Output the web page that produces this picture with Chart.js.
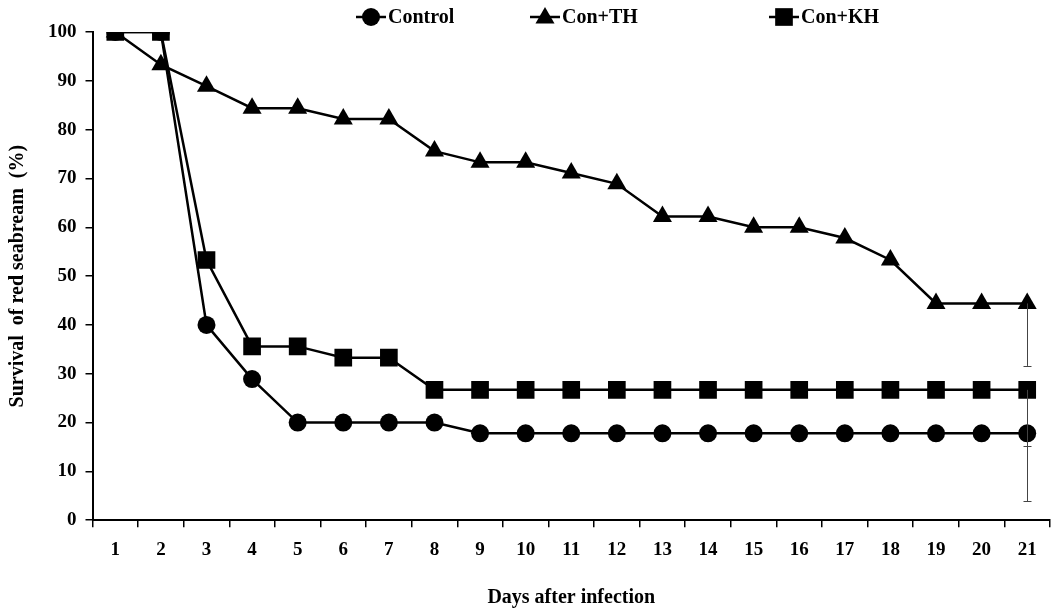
<!DOCTYPE html>
<html>
<head>
<meta charset="utf-8">
<script src="https://cdn.jsdelivr.net/npm/chart.js"></script>
<style>
  html, body { margin: 0; padding: 0; background: #fff; overflow: hidden; }
  canvas { display: block; }
</style>
</head>
<body>
<canvas id="survivalChart" width="1051" height="614"></canvas>
<script>
// datos
var days = ['1','2','3','4','5','6','7','8','9','10','11','12','13','14','15','16','17','18','19','20','21'];
var controlData = [100, 100, 40, 28.9, 20, 20, 20, 20, 17.8, 17.8, 17.8, 17.8, 17.8, 17.8, 17.8, 17.8, 17.8, 17.8, 17.8, 17.8, 17.8];
var thData = [100, 93.3, 88.9, 84.4, 84.4, 82.2, 82.2, 75.6, 73.3, 73.3, 71.1, 68.9, 62.2, 62.2, 60, 60, 57.8, 53.3, 44.4, 44.4, 44.4];
var khData = [100, 100, 53.3, 35.6, 35.6, 33.3, 33.3, 26.7, 26.7, 26.7, 26.7, 26.7, 26.7, 26.7, 26.7, 26.7, 26.7, 26.7, 26.7, 26.7, 26.7];
// barras de error (solo hacia abajo), ultimo dia
var controlErr = [null, null, null, null, null, null, null, null, null, null, null, null, null, null, null, null, null, null, null, null, 13.9];
var thErr = [null, null, null, null, null, null, null, null, null, null, null, null, null, null, null, null, null, null, null, null, 12.8];
var khErr = [null, null, null, null, null, null, null, null, null, null, null, null, null, null, null, null, null, null, null, null, 11.6];

var serif = "'Liberation Serif', 'Times New Roman', serif";

function drawMarker(ctx, style, r, x, y) {
    ctx.beginPath();
    if (style === 'circle') {
        ctx.arc(x, y, r, 0, Math.PI * 2);
    } else if (style === 'triangle') {
        ctx.moveTo(x, y - r);
        ctx.lineTo(x + r * 0.866, y + r * 0.5);
        ctx.lineTo(x - r * 0.866, y + r * 0.5);
        ctx.closePath();
    } else {
        var s = r * Math.SQRT1_2;
        ctx.rect(x - s, y - s, 2 * s, 2 * s);
    }
    ctx.fill();
}

// leyenda con linea y marcador
var legendPlugin = {
    id: 'lineLegend',
    afterDraw: function(chart) {
        var ctx = chart.ctx;
        var items = [
            { text: 'Control', x: 356, style: 'circle', r: 9 },
            { text: 'Con+TH', x: 530, style: 'triangle', r: 11 },
            { text: 'Con+KH', x: 769, style: 'rect', r: 12.5 }
        ];
        var y = 17;
        ctx.save();
        ctx.fillStyle = '#000';
        ctx.strokeStyle = '#000';
        ctx.lineWidth = 2.5;
        ctx.font = 'bold 20px ' + serif;
        ctx.textBaseline = 'middle';
        items.forEach(function(it) {
            ctx.beginPath();
            ctx.moveTo(it.x, y);
            ctx.lineTo(it.x + 30, y);
            ctx.stroke();
            drawMarker(ctx, it.style, it.r, it.x + 15, it.style === 'triangle' ? y + 1 : y);
            ctx.fillText(it.text, it.x + 32, y + 1);
        });
        ctx.restore();
    }
};

// barras de error
var errorBarPlugin = {
    id: 'errorBars',
    afterDatasetsDraw: function(chart) {
        var ctx = chart.ctx;
        var yScale = chart.scales.y;
        var xScale = chart.scales.x;
        var errs = [controlErr, thErr, khErr];
        ctx.save();
        ctx.strokeStyle = '#444';
        ctx.lineWidth = 1;
        chart.data.datasets.forEach(function(ds, di) {
            ds.data.forEach(function(v, i) {
                var e = errs[di][i];
                if (e == null) return;
                var x = Math.round(xScale.getPixelForValue(i)) + 0.5;
                var y0 = yScale.getPixelForValue(v);
                var y1 = yScale.getPixelForValue(v - e);
                ctx.beginPath();
                ctx.moveTo(x, y0);
                ctx.lineTo(x, y1);
                ctx.moveTo(x - 4, Math.round(y1) + 0.5);
                ctx.lineTo(x + 4, Math.round(y1) + 0.5);
                ctx.stroke();
            });
        });
        ctx.restore();
    }
};

var ctx = document.getElementById('survivalChart').getContext('2d');
var survivalChart = new Chart(ctx, {
    type: 'line',
    data: {
        labels: days,
        datasets: [
            {
                label: 'Control',
                data: controlData,
                borderColor: '#000',
                backgroundColor: '#000',
                borderWidth: 2.5,
                pointStyle: 'circle',
                pointRadius: 9,
                pointBorderWidth: 0,
                order: 3
            },
            {
                label: 'Con+TH',
                data: thData,
                borderColor: '#000',
                backgroundColor: '#000',
                borderWidth: 2.5,
                pointStyle: 'triangle',
                pointRadius: 11,
                pointBorderWidth: 0,
                order: 2
            },
            {
                label: 'Con+KH',
                data: khData,
                borderColor: '#000',
                backgroundColor: '#000',
                borderWidth: 2.5,
                pointStyle: 'rect',
                pointRadius: 12.5,
                pointBorderWidth: 0,
                order: 1
            }
        ]
    },
    options: {
        responsive: false,
        animation: false,
        layout: { autoPadding: false, padding: { top: 32, right: 1, left: 6, bottom: 4 } },
        plugins: {
            legend: { display: false },
            tooltip: { enabled: false }
        },
        scales: {
            x: {
                offset: true,
                grid: {
                    offset: true,
                    drawOnChartArea: false,
                    drawTicks: true,
                    tickLength: 7,
                    color: '#000',
                    lineWidth: 1.5
                },
                border: { color: '#000', width: 2 },
                ticks: {
                    color: '#000',
                    font: { family: serif, size: 19, weight: 'bold' },
                    padding: 11,
                    maxRotation: 0
                },
                title: {
                    display: true,
                    text: 'Days after infection',
                    color: '#000',
                    font: { family: serif, size: 20, weight: 'bold' },
                    padding: { top: 14, bottom: 0 }
                }
            },
            y: {
                min: 0,
                max: 100,
                grid: {
                    drawOnChartArea: false,
                    drawTicks: true,
                    tickLength: 7,
                    color: '#000',
                    lineWidth: 1.5
                },
                border: { color: '#000', width: 2 },
                ticks: {
                    stepSize: 10,
                    color: '#000',
                    font: { family: serif, size: 19, weight: 'bold' },
                    padding: 9
                },
                title: {
                    display: true,
                    text: 'Survival  of red seabream  (%)',
                    color: '#000',
                    font: { family: serif, size: 20, weight: 'bold' },
                    padding: { top: 0, bottom: 9 }
                }
            }
        }
    },
    plugins: [legendPlugin, errorBarPlugin]
});
</script>
</body>
</html>
